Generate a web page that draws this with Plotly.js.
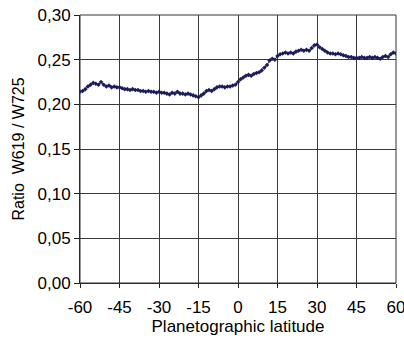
<!DOCTYPE html>
<html><head><meta charset="utf-8">
<script src="https://cdn.plot.ly/plotly-3.0.1.min.js"></script>
<style>html,body{margin:0;padding:0;background:#fff}#c{width:404px;height:339px}</style>
</head><body><div id="c"></div>
<script>
var latitude = [];
for (var i = -60; i <= 60; i++) latitude.push(i);
var ratio = [
0.214,0.215,0.217,0.220,0.222,0.224,0.223,0.222,0.225,0.222,
0.220,0.221,0.219,0.220,0.219,0.219,0.218,0.217,0.217,0.216,
0.217,0.216,0.216,0.215,0.215,0.214,0.215,0.214,0.214,0.213,
0.214,0.213,0.213,0.212,0.211,0.213,0.212,0.214,0.212,0.212,
0.211,0.212,0.211,0.210,0.209,0.208,0.210,0.212,0.215,0.216,
0.215,0.217,0.219,0.220,0.220,0.219,0.220,0.220,0.221,0.222,
0.225,0.228,0.230,0.232,0.233,0.232,0.234,0.235,0.236,0.238,
0.241,0.244,0.249,0.251,0.250,0.254,0.256,0.257,0.258,0.257,
0.258,0.257,0.259,0.260,0.261,0.260,0.261,0.260,0.263,0.266,
0.267,0.264,0.262,0.260,0.258,0.257,0.257,0.256,0.257,0.256,
0.255,0.254,0.253,0.253,0.252,0.252,0.252,0.253,0.252,0.252,
0.253,0.252,0.253,0.252,0.251,0.253,0.254,0.253,0.256,0.258,
0.257];
var xTicks = [-60,-45,-30,-15,0,15,30,45,60];
var xTickText = ['-60','-45','-30','-15','0','15','30','45','60'];
var yTicks = [0,0.05,0.10,0.15,0.20,0.25,0.30];
var fam = 'Liberation Sans, Arial, sans-serif';
var font = {family: fam, size: 17, color: '#000'};
Plotly.newPlot('c', [{
  x: latitude, y: ratio, type: 'scatter', mode: 'lines+markers',
  line: {color: '#1c1c5c', width: 1},
  marker: {color: '#1c1c5c', size: 3.5, symbol: 'diamond'},
  showlegend: false, hoverinfo: 'skip'
}], {
  width: 404, height: 339,
  margin: {l: 80, r: 8, t: 15, b: 56},
  paper_bgcolor: '#fff', plot_bgcolor: '#fff',
  separators: ',.',
  font: font,
  xaxis: {range: [-60, 60], tickvals: xTicks, ticktext: xTickText,
    ticklabeloverflow: 'allow', ticklabelstandoff: 5,
    showgrid: true, gridcolor: '#3a3a3a', gridwidth: 1, zeroline: false,
    showline: true, linecolor: '#222', linewidth: 1, mirror: false,
    ticks: 'outside', ticklen: 4, tickcolor: '#222',
    tickfont: font,
    title: {text: 'Planetographic latitude', font: {family: fam, size: 17, color: '#000'}, standoff: 0}},
  yaxis: {range: [0, 0.30], tickvals: yTicks, tickformat: '.2f',
    ticklabeloverflow: 'allow',
    showgrid: true, gridcolor: '#3a3a3a', gridwidth: 1, zeroline: false,
    showline: true, linecolor: '#222', linewidth: 1,
    ticks: 'outside', ticklen: 5, tickcolor: '#222',
    tickfont: font,
    title: {text: 'Ratio&nbsp;&nbsp;W619 / W725', font: {family: fam, size: 16, color: '#000'}, standoff: 8}},
  shapes: [{type: 'rect', xref: 'paper', yref: 'paper', x0: 0, x1: 1, y0: 0, y1: 1,
    line: {color: '#333', width: 1}}]
}, {displayModeBar: false, staticPlot: true});
</script></body></html>
